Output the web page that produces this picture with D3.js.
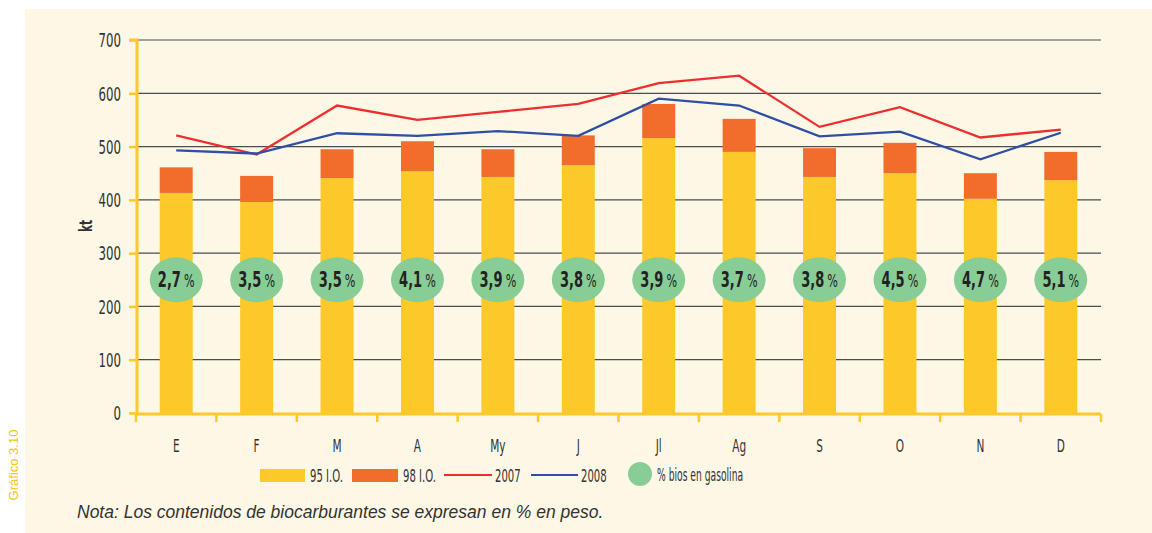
<!DOCTYPE html>
<html>
<head>
<meta charset="utf-8">
<script src="https://cdn.jsdelivr.net/npm/d3@7"></script>
<style>
  body { margin: 0; background: #fff; }
</style>
</head>
<body>
<script>
// monthly data (kt)
let months = ['E','F','M','A','My','J','Jl','Ag','S','O','N','D']
let io95 = [413, 396, 441, 454, 443, 465, 516, 490, 443, 450, 402, 437]
let io98 = [48, 49, 54, 56, 52, 56, 64, 62, 54, 57, 48, 53]
let y2007 = [521, 485, 577, 550, 565, 580, 619, 633, 537, 574, 517, 532]
let y2008 = [493, 487, 525, 520, 529, 520, 590, 577, 519, 528, 476, 526]
let bios = ['2,7','3,5','3,5','4,1','3,9','3,8','3,9','3,7','3,8','4,5','4,7','5,1']
let yTicks = [0, 100, 200, 300, 400, 500, 600, 700]

let width = 1152
let height = 533
let yellow = '#fdc82a'
let orange = '#f26c2b'
let red = '#ee2e2e'
let blue = '#2e4fa5'
let green = '#88cc96'
let ink = '#333'
let font = 'DejaVu Sans, sans-serif'
let sx = 0.62   // squeeze to mimic the narrow face

let svg = d3.select('body').append('svg').attr('width', width).attr('height', height)

svg.append('rect').attr('x', 25).attr('y', 9).attr('width', width - 25).attr('height', height - 9)
   .attr('fill', '#fdf7e6')

let x = d3.scaleBand().domain(months).range([136, 1101]).paddingInner(0.59).paddingOuter(0.295)
let xb = d3.scaleBand().domain(months).range([136, 1101])
let y = d3.scaleLinear().domain([0, 700]).range([413, 40])

// narrow text placed at (px,py)
let narrow = (g, px, py, txt, size, anchor, bold, squeeze) => {
    return g.append('text')
        .attr('transform', 'translate(' + px + ',' + py + ') scale(' + (squeeze || sx) + ',1)')
        .attr('text-anchor', anchor || 'start')
        .attr('font-family', font).attr('font-size', size)
        .attr('font-weight', bold ? 'bold' : 'normal')
        .attr('fill', ink).text(txt)
}

// grid
svg.append('g').selectAll('line').data(yTicks.slice(1)).enter().append('line')
   .attr('x1', 137).attr('x2', 1101)
   .attr('y1', d => y(d)).attr('y2', d => y(d))
   .attr('stroke', '#4d4d4d').attr('stroke-width', 1.2)

// bars
svg.append('g').selectAll('rect').data(months).enter().append('rect')
   .attr('x', d => x(d)).attr('width', x.bandwidth())
   .attr('y', (d, i) => y(io95[i])).attr('height', (d, i) => y(0) - y(io95[i]))
   .attr('fill', yellow)
svg.append('g').selectAll('rect').data(months).enter().append('rect')
   .attr('x', d => x(d)).attr('width', x.bandwidth())
   .attr('y', (d, i) => y(io95[i] + io98[i])).attr('height', (d, i) => y(io95[i]) - y(io95[i] + io98[i]))
   .attr('fill', orange)

// lines
let line = d3.line().x((d, i) => xb(months[i]) + xb.bandwidth() / 2).y(d => y(d))
svg.append('path').datum(y2007).attr('d', line).attr('fill', 'none').attr('stroke', red).attr('stroke-width', 2.3)
svg.append('path').datum(y2008).attr('d', line).attr('fill', 'none').attr('stroke', blue).attr('stroke-width', 2.3)

// y axis
let yAxis = d3.axisLeft(y).tickValues(yTicks).tickSize(8).tickPadding(8)
let ya = svg.append('g').attr('transform', 'translate(137,0)').call(yAxis)
ya.select('.domain').attr('stroke', yellow).attr('stroke-width', 3).attr('d', 'M-8,' + y(700) + 'H0V' + (y(0) + 1))
ya.selectAll('.tick line').attr('stroke', yellow).attr('stroke-width', 2.5)
ya.selectAll('.tick text')
  .attr('font-family', font).attr('font-size', 19).attr('fill', ink)
  .attr('x', -16 / sx).attr('dy', '0.36em')
  .attr('transform', 'scale(' + sx + ',1)')

// x axis
let xAxis = d3.axisBottom(xb).tickSize(0).tickPadding(26)
let xa = svg.append('g').attr('transform', 'translate(0,414)').call(xAxis)
xa.select('.domain').attr('stroke', yellow).attr('stroke-width', 3).attr('d', 'M136,0H1101')
xa.selectAll('.tick text')
  .attr('font-family', font).attr('font-size', 17).attr('fill', ink)
  .attr('transform', 'scale(' + sx + ',1)')
svg.append('g').selectAll('line').data(months.concat(['end'])).enter().append('line')
   .attr('x1', d => d === 'end' ? 1101 : xb(d)).attr('x2', d => d === 'end' ? 1101 : xb(d))
   .attr('y1', 414).attr('y2', 422)
   .attr('stroke', yellow).attr('stroke-width', 2.5)

let kt = svg.append('g').attr('transform', 'translate(92,226) rotate(-90)')
narrow(kt, 0, 0, 'kt', 17, 'middle', true)

// bios bubbles
let bub = svg.append('g').selectAll('g').data(months).enter().append('g')
   .attr('transform', d => 'translate(' + (xb(d) + xb.bandwidth() / 2) + ',' + y(250) + ')')
bub.append('ellipse').attr('rx', 26.5).attr('ry', 22.5).attr('fill', green)
let bt = bub.append('text').attr('transform', 'translate(0,7.5) scale(' + sx + ',1)')
   .attr('text-anchor', 'middle').attr('font-family', font).attr('fill', '#222')
bt.append('tspan').attr('font-size', 21).attr('font-weight', 'bold').text((d, i) => bios[i])
bt.append('tspan').attr('font-size', 18).attr('dx', 5).text('%')

// legend
let lg = svg.append('g')
lg.append('rect').attr('x', 260).attr('y', 469).attr('width', 45).attr('height', 13).attr('fill', yellow)
narrow(lg, 310, 482, '95 I.O.', 18, null, false, 0.56)
lg.append('rect').attr('x', 352).attr('y', 469).attr('width', 46).attr('height', 13).attr('fill', orange)
narrow(lg, 403, 482, '98 I.O.', 18, null, false, 0.56)
lg.append('line').attr('x1', 444).attr('x2', 492).attr('y1', 475).attr('y2', 475).attr('stroke', red).attr('stroke-width', 2)
narrow(lg, 495, 482, '2007', 18, null, false, 0.56)
lg.append('line').attr('x1', 531).attr('x2', 578).attr('y1', 475).attr('y2', 475).attr('stroke', blue).attr('stroke-width', 2)
narrow(lg, 581, 482, '2008', 18, null, false, 0.56)
lg.append('circle').attr('cx', 640).attr('cy', 474).attr('r', 12).attr('fill', green)
narrow(lg, 657, 481, '% bios en gasolina', 17, null, false, 0.54)

svg.append('text').attr('x', 77).attr('y', 518).attr('font-family', 'Liberation Sans, Arial, sans-serif')
   .attr('font-style', 'italic').attr('font-size', 17.5).attr('fill', ink)
   .text('Nota: Los contenidos de biocarburantes se expresan en % en peso.')

svg.append('text').attr('transform', 'translate(18,465) rotate(-90)').attr('text-anchor', 'middle')
   .attr('font-family', 'Liberation Sans, Arial, sans-serif').attr('font-size', 13).attr('fill', '#f5c518')
   .text('Gráfico 3.10')
</script>
</body>
</html>
